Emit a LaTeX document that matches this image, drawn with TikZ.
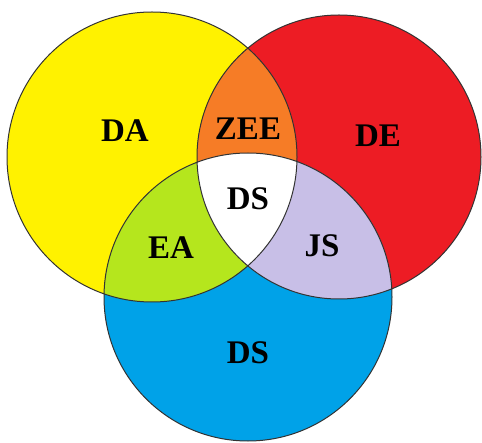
\documentclass[tikz,border=0pt]{standalone}
\usepackage{fontspec}
\setmainfont{Liberation Serif}
\definecolor{vnyellow}{RGB}{255,242,0}
\definecolor{vnred}{RGB}{237,28,36}
\definecolor{vnblue}{RGB}{0,162,232}
\definecolor{vnorange}{RGB}{246,124,38}
\definecolor{vngreen}{RGB}{181,230,29}
\definecolor{vnlilac}{RGB}{200,191,231}
\usetikzlibrary{positioning}
\begin{document}
\begin{tikzpicture}[x=0.5pt, y=-0.5pt,
    setlabel/.style={font=\fontsize{16.5}{18}\selectfont\bfseries, text=black}]
    \useasboundingbox (0,0) rectangle (482,443);
    % Circles: DA (yellow), DE (red), DS (blue)
    \def\circDA{(152,157) circle[radius=145]}
    \def\circDE{(339,157) circle[radius=142]}
    \def\circDS{(248,297) circle[radius=144]}

    % Plain fills
    \fill[vnyellow] \circDA;
    \fill[vnred] \circDE;
    \fill[vnblue] \circDS;

    % Pairwise overlaps
    \begin{scope}
      \clip \circDA;
      \fill[vnorange] \circDE;
      \fill[vngreen] \circDS;
    \end{scope}
    \begin{scope}
      \clip \circDE;
      \fill[vnlilac] \circDS;
    \end{scope}

    % Centre: all three
    \begin{scope}
      \clip \circDA;
      \clip \circDE;
      \fill[white] \circDS;
    \end{scope}

    % Outlines
    \draw[black!80, line width=0.5pt] \circDA \circDE \circDS;

    % Labels
    \node[setlabel] (da)   at (125,131) {DA};
    \node[setlabel] (zee)  at (248,129) {ZEE};
    \node[setlabel] (de)   at (378,136) {DE};
    \node[setlabel] (ds)   at (248,199) {DS};
    \node[setlabel] (ea)   at (171,248) {EA};
    \node[setlabel] (js)   at (322,246) {JS};
    \node[setlabel] (dsb)  at (248,353) {DS};
  \end{tikzpicture}
\end{document}
